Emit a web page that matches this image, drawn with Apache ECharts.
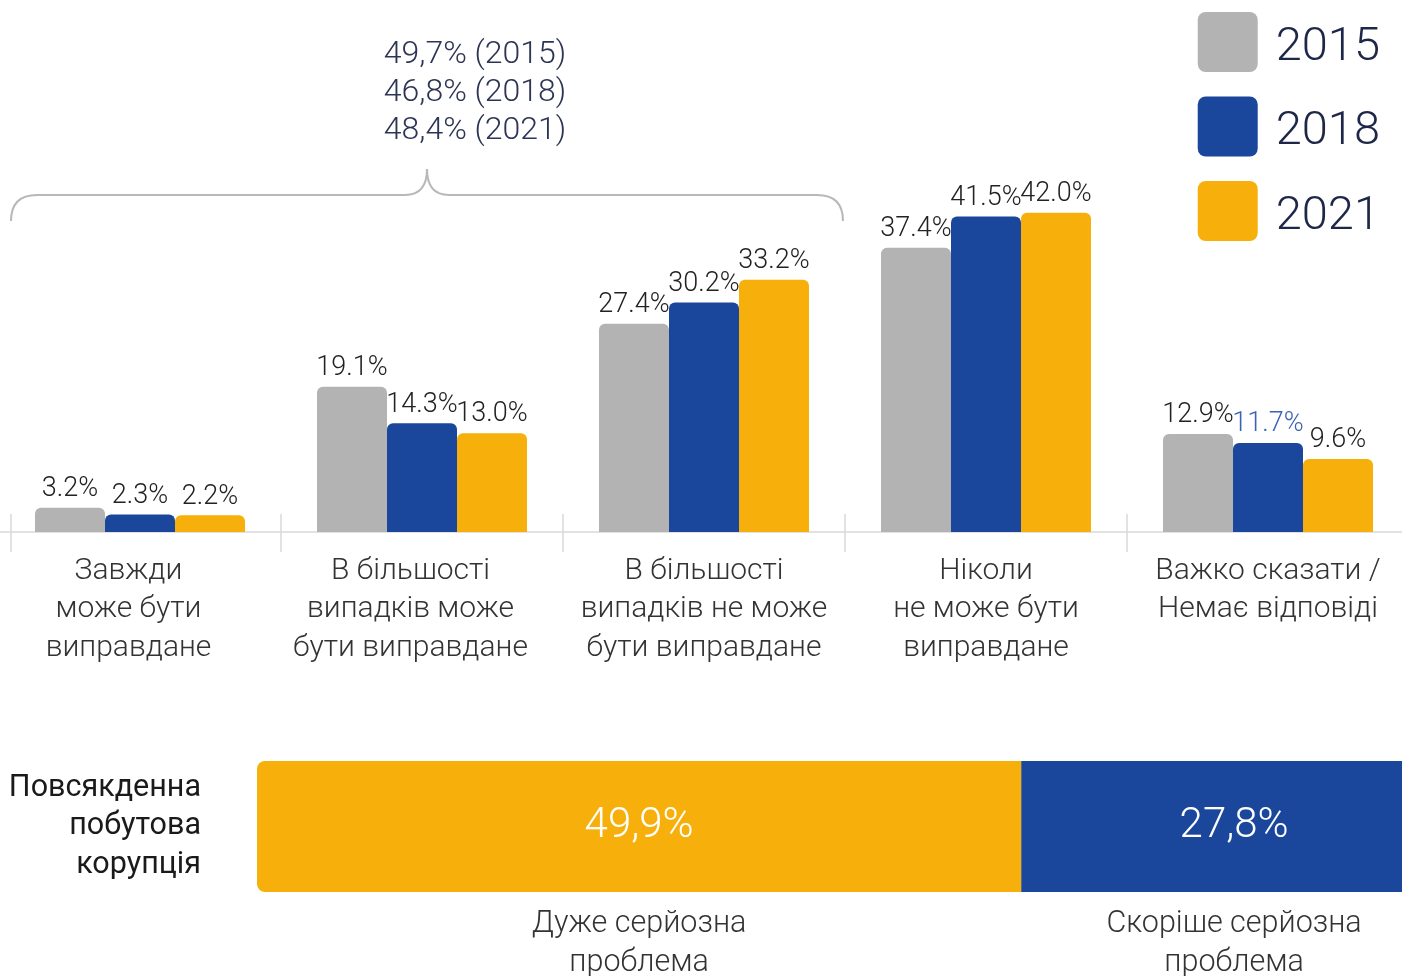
<!DOCTYPE html>
<html>
<head>
<meta charset="utf-8">
<script src="https://cdn.jsdelivr.net/npm/echarts@6/dist/echarts.min.js"></script>
<style>
  html, body { margin: 0; padding: 0; background: #fff; }
  #main { width: 1402px; height: 976px; }
</style>
</head>
<body>
<div id="main"></div>
<script>
// top chart data
const categories = [
  'Завжди\nможе бути\nвиправдане',
  'В більшості\nвипадків може\nбути виправдане',
  'В більшості\nвипадків не може\nбути виправдане',
  'Ніколи\nне може бути\nвиправдане',
  'Важко сказати /\nНемає відповіді'
];
const years = ['2015', '2018', '2021'];
const v2015 = [3.2, 19.1, 27.4, 37.4, 12.9];
const v2018 = [2.3, 14.3, 30.2, 41.5, 11.7];
const v2021 = [2.2, 13.0, 33.2, 42.0, 9.6];

// bottom bar data
const problemLabel = ['Повсякденна\nпобутова\nкорупція'];
const problemNames = ['Дуже серйозна\nпроблема', 'Скоріше серйозна\nпроблема'];
const verySerious = [49.9];
const ratherSerious = [27.8];

const colors = ['#b3b3b3', '#1a479b', '#f7b00b'];
const font = 'Roboto';

// sum of the first three categories, shown above the brace
const sums = [v2015, v2018, v2021].map(function (arr, i) {
  const s = arr[0] + arr[1] + arr[2];
  return s.toFixed(1).replace('.', ',') + '% (' + years[i] + ')';
});

let chart = echarts.init(document.getElementById('main'));

function topSeries(name, data, idx) {
  return {
    name: name,
    type: 'bar',
    xAxisIndex: 0,
    yAxisIndex: 0,
    barWidth: 70,
    barGap: '0%',
    data: data.map(function (v, i) {
      // the 11.7% label is blue in the original
      if (idx === 1 && i === 4) {
        return { value: v, label: { color: '#3c62b5' } };
      }
      return v;
    }),
    itemStyle: { color: colors[idx], borderRadius: [6, 6, 0, 0] },
    label: {
      show: true,
      position: 'top',
      distance: 5,
      fontFamily: font,
      fontWeight: 300,
      fontSize: 27,
      color: '#222',
      formatter: function (p) { return p.value.toFixed(1) + '%'; }
    }
  };
}

function bottomLabel(name) {
  return {
    show: true,
    position: 'inside',
    padding: [78, 0, 0, 0],
    formatter: function (p) {
      const lines = name.split('\n').map(function (s) { return '{n|' + s + '}'; });
      return '{v|' + p.value.toFixed(1).replace('.', ',') + '%}\n' + lines.join('\n');
    },
    rich: {
      v: { fontFamily: font, fontWeight: 300, fontSize: 42, lineHeight: 157, color: '#fff' },
      n: { fontFamily: font, fontWeight: 300, fontSize: 30.5, lineHeight: 39, color: '#333' }
    }
  };
}

const iconPath = 'path://M8,0 H52 A8,8 0 0 1 60,8 V52 A8,8 0 0 1 52,60 H8 A8,8 0 0 1 0,52 V8 A8,8 0 0 1 8,0 Z';
const braceStyle = { fill: 'none', stroke: '#b8b8b8', lineWidth: 2 };
const tickStyle = { color: '#d9d9d9', width: 1.5 };

chart.setOption({
  animation: false,
  legend: {
    data: years,
    orient: 'vertical',
    right: 22,
    top: 12,
    padding: 0,
    itemWidth: 60,
    itemHeight: 60,
    itemGap: 24.5,
    icon: iconPath,
    formatter: '{t|{name}}',
    textStyle: {
      rich: {
        t: { fontFamily: font, fontWeight: 300, fontSize: 47, color: '#1e2747', padding: [12, 0, 0, 13] }
      }
    }
  },
  grid: [
    { left: -1, right: -7, top: 76, bottom: 444, outerBoundsMode: 'none' },
    { left: 257, right: -45, top: 761, height: 131, outerBoundsMode: 'none' }
  ],
  xAxis: [
    {
      type: 'category',
      gridIndex: 0,
      data: categories.map(function (c, i) {
        // the first two labels sit a little left of their groups
        return i < 2 ? { value: c, textStyle: { padding: [0, 23, 0, 0] } } : c;
      }),
      axisLine: { show: true, lineStyle: tickStyle },
      axisTick: { show: true, length: 20, lineStyle: tickStyle },
      axisLabel: {
        interval: 0,
        margin: 20,
        fontFamily: font,
        fontWeight: 300,
        fontSize: 30,
        lineHeight: 38.5,
        color: '#333'
      }
    },
    {
      // ticks reaching up above the axis line
      type: 'category',
      gridIndex: 0,
      data: categories,
      position: 'bottom',
      axisLine: { show: false },
      axisTick: { show: true, inside: true, length: 18, lineStyle: tickStyle },
      axisLabel: { show: false }
    },
    {
      type: 'value',
      gridIndex: 1,
      min: 0,
      max: Math.round((verySerious[0] + ratherSerious[0]) * 10) / 10,
      show: false
    }
  ],
  yAxis: [
    { type: 'value', gridIndex: 0, min: 0, max: 60, show: false },
    {
      type: 'category',
      gridIndex: 1,
      data: problemLabel,
      axisLine: { show: false },
      axisTick: { show: false },
      axisLabel: {
        margin: 56,
        align: 'right',
        fontFamily: font,
        fontWeight: 400,
        fontSize: 30.5,
        lineHeight: 38.5,
        color: '#1a1a1a',
        padding: [4, 0, 0, 0]
      }
    }
  ],
  series: [
    topSeries(years[0], v2015, 0),
    topSeries(years[1], v2018, 1),
    topSeries(years[2], v2021, 2),
    {
      name: problemNames[0],
      type: 'bar',
      xAxisIndex: 2,
      yAxisIndex: 1,
      stack: 'problem',
      barWidth: 131,
      data: verySerious,
      itemStyle: { color: colors[2], borderRadius: [8, 0, 0, 8] },
      label: bottomLabel(problemNames[0])
    },
    {
      name: problemNames[1],
      type: 'bar',
      xAxisIndex: 2,
      yAxisIndex: 1,
      stack: 'problem',
      barWidth: 131,
      data: ratherSerious,
      itemStyle: { color: colors[1] },
      label: bottomLabel(problemNames[1])
    }
  ],
  graphic: [
    // curly brace over the first three groups
    { type: 'bezierCurve', shape: { x1: 11, y1: 221, cpx1: 11, cpy1: 195, x2: 37, y2: 195 }, style: braceStyle },
    { type: 'line', shape: { x1: 37, y1: 195, x2: 405, y2: 195 }, style: braceStyle },
    { type: 'bezierCurve', shape: { x1: 405, y1: 195, cpx1: 427, cpy1: 195, x2: 427, y2: 169 }, style: braceStyle },
    { type: 'bezierCurve', shape: { x1: 427, y1: 169, cpx1: 427, cpy1: 195, x2: 449, y2: 195 }, style: braceStyle },
    { type: 'line', shape: { x1: 449, y1: 195, x2: 817, y2: 195 }, style: braceStyle },
    { type: 'bezierCurve', shape: { x1: 817, y1: 195, cpx1: 843, cpy1: 195, x2: 843, y2: 221 }, style: braceStyle },
    {
      type: 'text',
      x: 475,
      y: 93,
      style: {
        text: sums.join('\n'),
        align: 'center',
        verticalAlign: 'middle',
        fontFamily: font,
        fontWeight: 300,
        fontSize: 32,
        lineHeight: 38,
        fill: '#2c3553'
      }
    },
    {
      type: 'line',
      shape: { x1: 11, y1: 514, x2: 11, y2: 552 },
      style: { stroke: '#d9d9d9', lineWidth: 1.5 }
    }
  ]
});
</script>
</body>
</html>
